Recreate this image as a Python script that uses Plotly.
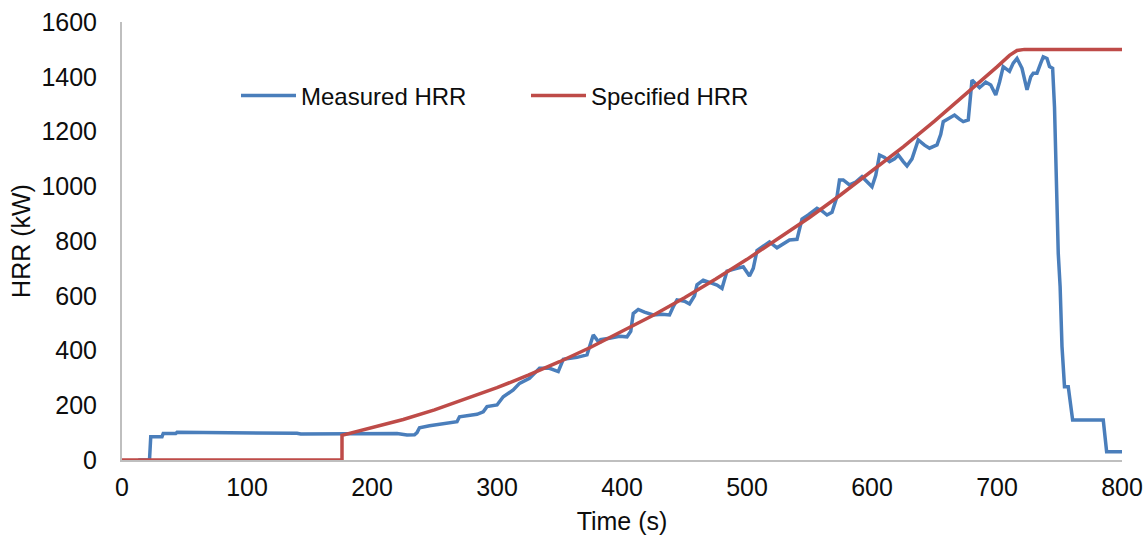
import plotly.graph_objects as go

# Measured HRR
meas_t = [13, 22, 23, 32, 33, 43, 44, 94, 96, 140, 143, 147, 150, 166, 176, 190, 211, 220, 228, 234,
          236, 238, 246, 260, 268, 270, 284, 289, 292, 300, 305, 313, 318, 326, 334, 342, 349, 353,
          364, 372, 375, 377, 382, 383, 390, 398, 404, 407, 409, 413, 418, 425, 432, 438, 441, 444,
          450, 454, 458, 460, 465, 470, 476, 480, 484, 492, 497, 502, 505, 508, 518, 524, 534, 540,
          544, 549, 556, 560, 564, 568, 572, 574, 577, 582, 587, 592, 596, 600, 603, 606, 610, 614,
          618, 621, 625, 628, 632, 637, 642, 646, 652, 655, 657, 662, 666, 670, 673, 677, 680, 686,
          691, 695, 699, 702, 705, 710, 713, 716, 720, 724, 727, 729, 732, 735, 737, 740, 742, 744.5,
          746, 749, 750.5, 752, 754, 757, 760.5, 785, 787.7, 800]
meas_q = [0, 0, 85, 85, 97, 97, 101, 101, 98, 98, 95, 95, 98, 97, 97, 97, 95, 97, 91, 92,
          100, 118, 125, 134, 140, 158, 167, 176, 195, 201, 231, 256, 280, 298, 335, 335, 323, 368,
          375, 384, 430, 457, 427, 440, 445, 452, 450, 470, 535, 550, 540, 530, 532, 530, 560, 585,
          580, 570, 600, 640, 657, 650, 639, 627, 690, 700, 706, 672, 700, 765, 797, 775, 804, 806,
          880, 895, 919, 910, 895, 905, 962, 1023, 1023, 1005, 1015, 1035, 1015, 998, 1040, 1114, 1105, 1090,
          1100, 1114, 1090, 1074, 1100, 1169, 1150, 1139, 1151, 1190, 1236, 1250, 1260, 1245, 1236, 1242, 1388, 1360,
          1380, 1370, 1333, 1380, 1437, 1420, 1450, 1467, 1431, 1352, 1400, 1413, 1413, 1450, 1473, 1467, 1437, 1431,
          1290, 755, 633, 414, 268, 268, 146, 146, 30, 30]

# Specified HRR
spec_t = [0, 176, 176, 200, 225, 250, 275, 300, 325, 350, 375, 400, 425, 450, 475, 500, 525, 550,
          575, 600, 625, 650, 675, 700, 710, 716, 722, 800]
spec_q = [0, 0, 90, 117, 148, 183, 222, 264, 310, 359, 412, 469, 529, 593, 661, 733, 808, 886,
          969, 1055, 1144, 1238, 1335, 1436, 1478, 1496, 1500, 1500]

x_ticks = [0, 100, 200, 300, 400, 500, 600, 700, 800]
y_ticks = [0, 200, 400, 600, 800, 1000, 1200, 1400, 1600]

FONT = "Liberation Sans, Arial, sans-serif"
TXT = "#0d0d0d"

fig = go.Figure()
fig.add_trace(go.Scatter(x=meas_t, y=meas_q, mode="lines", name="Measured HRR",
                         line=dict(color="#4a7ebb", width=3.5)))
fig.add_trace(go.Scatter(x=spec_t, y=spec_q, mode="lines", name="Specified HRR",
                         line=dict(color="#be4b48", width=3.5)))

fig.update_layout(
    width=1146, height=538,
    margin=dict(l=122, r=24, t=22, b=78, autoexpand=False),
    paper_bgcolor="white", plot_bgcolor="white",
    font=dict(family=FONT, color=TXT, size=24),
    showlegend=True,
    legend=dict(orientation="h", x=0.114, y=0.831, xanchor="left", yanchor="middle",
                font=dict(size=24, family=FONT, color=TXT), itemwidth=55,
                bgcolor="rgba(0,0,0,0)", entrywidth=220),
    xaxis=dict(range=[0, 800], tickvals=x_ticks, ticktext=[str(v) for v in x_ticks],
               showgrid=False, zeroline=False, showline=True, linecolor="#bfbfbf", linewidth=2,
               ticks="", tickfont=dict(size=25, family=FONT, color=TXT), ticklabelstandoff=4,
               automargin=False,
               title=dict(text="Time (s)", font=dict(size=25, family=FONT, color=TXT), standoff=12)),
    yaxis=dict(range=[0, 1600], tickvals=y_ticks, ticktext=[str(v) for v in y_ticks],
               showgrid=False, zeroline=False, showline=True, linecolor="#bfbfbf", linewidth=2,
               ticks="", tickfont=dict(size=25, family=FONT, color=TXT), ticklabelstandoff=18,
               automargin=False,
               title=dict(text="HRR (kW)", font=dict(size=25, family=FONT, color=TXT), standoff=4)),
)
fig.write_html("out.html", config={"displayModeBar": False},
               post_script="document.body.style.margin='0';document.body.style.padding='0';")
